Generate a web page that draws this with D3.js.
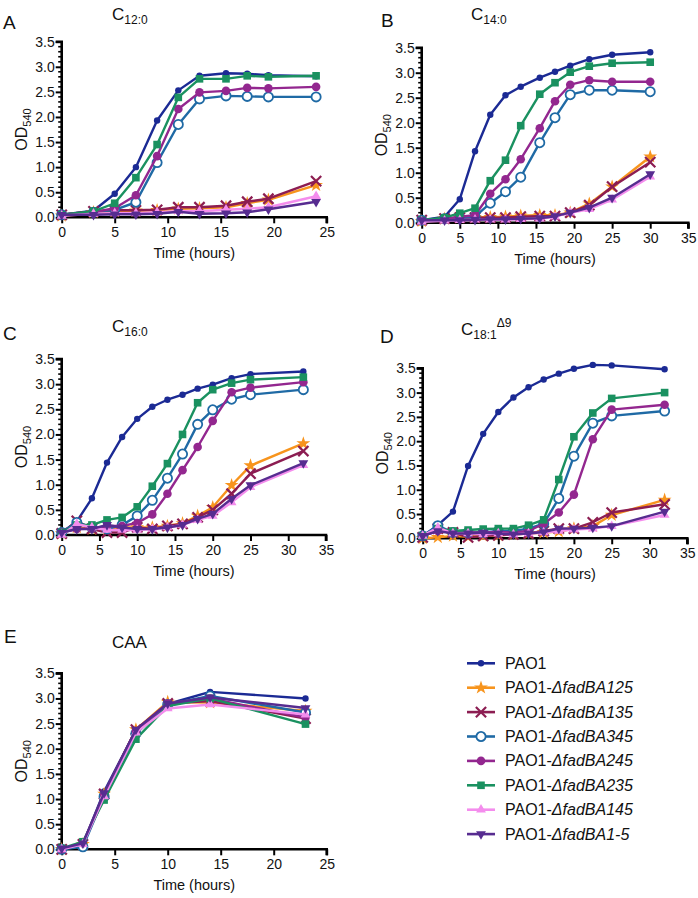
<!DOCTYPE html>
<html><head><meta charset="utf-8">
<script src="https://cdn.jsdelivr.net/npm/d3@7"></script>
<style>
body{margin:0;background:#fff}
svg{display:block;font-family:"Liberation Sans",Arial,Helvetica,sans-serif}
</style>
</head><body>
<svg id="chart" width="698" height="898"></svg>
<script>
// ---------- DATA ----------
const strainBase = ["PAO1","PAO1-","PAO1-","PAO1-","PAO1-","PAO1-","PAO1-","PAO1-"];
const strainItalic = ["","ΔfadBA125","ΔfadBA135","ΔfadBA345","ΔfadBA245","ΔfadBA235","ΔfadBA145","ΔfadBA1-5"];
const strainColors = ["#1b2a94","#f7941d","#8c1d52","#1f6aa5","#93278f","#1a9160","#f48ded","#572c90"];
const strainMarkers = ["dot","star","times","ring","circle","square","triUp","triDown"];

const yTickValues = [0,0.5,1.0,1.5,2.0,2.5,3.0,3.5];
const xTicks25 = [0,5,10,15,20,25];
const xTicks35 = [0,5,10,15,20,25,30,35];

// Panel A: C12:0  (order: PAO1,125,135,345,245,235,145,1-5)
const timesC12 = [0,3,5,7,9,11,13,15.5,17.5,19.5,24];
const odC12 = [
  [0.05,0.13,0.47,1.00,1.93,2.53,2.82,2.87,2.86,2.83,2.81],
  [0.03,0.10,0.12,0.13,0.14,0.17,0.18,0.20,0.28,0.35,0.64],
  [0.05,0.12,0.14,0.14,0.15,0.20,0.20,0.23,0.31,0.37,0.72],
  [0.05,0.10,0.15,0.30,1.09,1.85,2.36,2.42,2.41,2.40,2.40],
  [0.05,0.10,0.18,0.44,1.22,2.16,2.49,2.52,2.58,2.57,2.60],
  [0.05,0.12,0.28,0.79,1.45,2.39,2.76,2.76,2.82,2.80,2.82],
  [0.03,0.07,0.08,0.08,0.10,0.12,0.12,0.15,0.17,0.20,0.42],
  [0.05,0.05,0.06,0.06,0.07,0.11,0.07,0.08,0.10,0.16,0.31]
];

// Panel B: C14:0
const timesC14 = [0,3,5,7,9,11,13,15.5,17.5,19.5,22,25,30];
const odC14 = [
  [0.05,0.12,0.47,1.43,2.16,2.55,2.72,2.90,3.02,3.14,3.27,3.36,3.41],
  [0.03,0.08,0.10,0.11,0.11,0.12,0.14,0.15,0.15,0.20,0.38,0.72,1.32],
  [0.05,0.08,0.10,0.10,0.10,0.10,0.12,0.13,0.13,0.20,0.35,0.72,1.21],
  [0.05,0.08,0.10,0.12,0.39,0.62,0.91,1.60,2.10,2.56,2.65,2.65,2.62],
  [0.05,0.08,0.12,0.15,0.58,0.87,1.27,1.89,2.43,2.76,2.85,2.82,2.82],
  [0.05,0.10,0.19,0.29,0.84,1.25,1.94,2.57,2.80,3.01,3.13,3.19,3.21],
  [0.02,0.04,0.05,0.06,0.06,0.06,0.07,0.08,0.12,0.20,0.27,0.46,0.92],
  [0.05,0.05,0.05,0.06,0.07,0.07,0.08,0.09,0.13,0.20,0.30,0.50,0.97]
];

// Panel C: C16:0
const timesC16 = [0,2,4,6,8,10,12,14,16,18,20,22.5,25,32];
const odC16 = [
  [0.05,0.27,0.73,1.44,1.95,2.31,2.55,2.69,2.79,2.91,2.99,3.12,3.20,3.25],
  [0.03,0.15,0.12,0.10,0.15,0.15,0.15,0.18,0.23,0.38,0.55,0.99,1.38,1.82],
  [0.03,0.28,0.12,0.05,0.05,0.15,0.12,0.18,0.22,0.35,0.50,0.82,1.22,1.67],
  [0.05,0.25,0.15,0.12,0.20,0.38,0.69,1.13,1.61,2.20,2.49,2.70,2.79,2.89],
  [0.05,0.12,0.13,0.18,0.18,0.24,0.41,0.82,1.29,1.75,2.27,2.84,2.93,3.04],
  [0.05,0.20,0.20,0.30,0.35,0.56,0.97,1.42,2.00,2.63,2.89,3.02,3.09,3.14],
  [0.00,0.22,0.15,0.10,0.10,0.10,0.12,0.15,0.20,0.30,0.38,0.65,0.95,1.39],
  [0.05,0.12,0.12,0.20,0.15,0.12,0.12,0.15,0.20,0.32,0.42,0.72,0.99,1.43]
];

// Panel D: C18:1 delta9
const timesC18 = [0,2,4,6,8,10,12,14,16,18,20,22.5,25,32];
const odC18 = [
  [0.05,0.27,0.55,1.49,2.15,2.60,2.90,3.11,3.27,3.39,3.49,3.57,3.56,3.48],
  [0.00,0.02,0.05,0.03,0.05,0.06,0.08,0.10,0.12,0.14,0.20,0.25,0.48,0.79],
  [0.02,0.20,0.12,0.02,0.05,0.06,0.08,0.10,0.15,0.20,0.20,0.33,0.53,0.70],
  [0.05,0.26,0.12,0.12,0.12,0.15,0.15,0.20,0.30,0.82,1.69,2.37,2.52,2.62],
  [0.05,0.15,0.12,0.12,0.12,0.13,0.12,0.15,0.30,0.53,0.90,2.04,2.65,2.75],
  [0.05,0.20,0.15,0.17,0.19,0.20,0.20,0.27,0.38,1.21,2.09,2.58,2.88,3.00],
  [0.05,0.22,0.10,0.10,0.08,0.10,0.08,0.10,0.12,0.15,0.18,0.20,0.25,0.48],
  [0.05,0.15,0.10,0.10,0.12,0.10,0.08,0.10,0.13,0.20,0.20,0.22,0.25,0.55]
];

// Panel E: CAA
const timesCAA = [0,2,4,7,10,14,23];
const odCAA = [
  [0.02,0.10,1.15,2.37,2.89,3.13,3.00],
  [0.00,0.10,1.10,2.38,2.93,2.92,2.75],
  [0.00,0.10,1.10,2.38,2.90,2.95,2.60],
  [0.00,0.05,1.05,2.30,2.88,3.05,2.72],
  [0.00,0.12,1.08,2.35,2.90,3.00,2.62],
  [0.02,0.15,0.98,2.19,2.85,3.00,2.49],
  [0.00,0.10,1.05,2.32,2.80,2.88,2.68],
  [0.02,0.12,1.12,2.38,2.90,3.02,2.81]
];

// ---------- LAYOUT ----------
const panels = [
  {letter:"A", main:"C", sub:"12:0", sup:"", times:timesC12, od:odC12, xmax:25, xticks:xTicks25,
   left:61.7, right:326.7, top:41.7, bottom:217.3, letterX:3, letterY:29, titleX:112, titleY:20},
  {letter:"B", main:"C", sub:"14:0", sup:"", times:timesC14, od:odC14, xmax:35, xticks:xTicks35,
   left:421.7, right:688.3, top:47.7, bottom:222.7, letterX:381, letterY:27, titleX:471, titleY:20},
  {letter:"C", main:"C", sub:"16:0", sup:"", times:timesC16, od:odC16, xmax:35, xticks:xTicks35,
   left:61.7, right:326, top:359, bottom:535, letterX:3, letterY:340, titleX:112, titleY:332},
  {letter:"D", main:"C", sub:"18:1", sup:"Δ9", times:timesC18, od:odC18, xmax:35, xticks:xTicks35,
   left:422.7, right:687.3, top:368.3, bottom:538.3, letterX:380, letterY:343, titleX:461, titleY:335},
  {letter:"E", main:"CAA", sub:"", sup:"", times:timesCAA, od:odCAA, xmax:25, xticks:xTicks25,
   left:61.7, right:326.7, top:673.3, bottom:849.3, letterX:4, letterY:643, titleX:112, titleY:648}
];

const svg = d3.select("#chart");

function drawMarker(g, type, color) {
  const sym = (t, s) => d3.symbol().type(t).size(s)();
  switch (type) {
    case "dot":
      g.append("circle").attr("r",3.2).attr("fill",color); break;
    case "circle":
      g.append("circle").attr("r",4.3).attr("fill",color); break;
    case "ring":
      g.append("circle").attr("r",4.6).attr("fill","#fff").attr("stroke",color).attr("stroke-width",1.8); break;
    case "square":
      g.append("rect").attr("x",-3.8).attr("y",-3.8).attr("width",7.6).attr("height",7.6).attr("fill",color); break;
    case "star":
      g.append("path").attr("d",sym(d3.symbolStar,60)).attr("fill",color); break;
    case "times":
      g.append("path").attr("d",sym(d3.symbolTimes,70)).attr("fill","none").attr("stroke",color).attr("stroke-width",2.2); break;
    case "triUp":
      g.append("path").attr("d",sym(d3.symbolTriangle,42)).attr("fill",color); break;
    case "triDown":
      g.append("path").attr("d",sym(d3.symbolTriangle,42)).attr("fill",color).attr("transform","rotate(180)"); break;
  }
}

panels.forEach(p => {
  const x = d3.scaleLinear().domain([0,p.xmax]).range([p.left,p.right]);
  const y = d3.scaleLinear().domain([0,3.5]).range([p.bottom,p.top]);
  const g = svg.append("g");

  // panel letter
  g.append("text").attr("x",p.letterX).attr("y",p.letterY).attr("font-size",19).attr("fill","#111").text(p.letter);
  // title
  const t = g.append("text").attr("x",p.titleX).attr("y",p.titleY).attr("font-size",17).attr("fill","#111");
  t.append("tspan").text(p.main);
  if (p.sub) t.append("tspan").attr("font-size",12).attr("dy",4).text(p.sub);
  if (p.sup) t.append("tspan").attr("font-size",12).attr("dy",-12).text(p.sup);

  // y axis
  const yAxis = d3.axisLeft(y).tickValues(yTickValues).tickFormat(d3.format(".1f")).tickSize(6).tickPadding(1);
  const ya = g.append("g").attr("transform",`translate(${p.left},0)`).call(yAxis);
  // minor y ticks
  const minors = d3.range(0,35).map(i => i/10).filter(v => Math.abs(v*2 - Math.round(v*2))>1e-6);
  g.append("g").selectAll("line").data(minors).join("line")
    .attr("x1",p.left-3.5).attr("x2",p.left).attr("y1",d=>y(d)).attr("y2",d=>y(d))
    .attr("stroke","#000").attr("stroke-width",1.6);

  // x axis
  const xAxis = d3.axisBottom(x).tickValues(p.xticks).tickFormat(d3.format("d")).tickSize(6).tickPadding(4);
  const xa = g.append("g").attr("transform",`translate(0,${p.bottom})`).call(xAxis);

  [ya,xa].forEach(a => {
    a.select(".domain").attr("stroke","#000").attr("stroke-width",2.6);
    a.selectAll(".tick line").attr("stroke","#000").attr("stroke-width",2);
    a.selectAll(".tick text").attr("font-size",14).attr("fill","#111").attr("font-family","Liberation Sans, Arial, sans-serif");
  });
  ya.select(".domain").attr("d",`M-6,${y(3.5)}H0V${y(0)}`);
  xa.select(".domain").attr("d",`M${x(0)},0H${x(p.xmax)}V6`);

  // axis titles
  g.append("text").attr("x",(p.left+p.right)/2).attr("y",p.bottom+41).attr("text-anchor","middle")
    .attr("font-size",14.5).attr("fill","#111").text("Time (hours)");
  const od = g.append("text").attr("transform",`translate(${p.left-35},${(p.top+p.bottom)/2}) rotate(-90)`)
    .attr("text-anchor","middle").attr("font-size",16).attr("fill","#111");
  od.append("tspan").text("OD");
  od.append("tspan").attr("font-size",11).attr("dy",4).text("540");

  // series
  const line = d3.line().x(d=>x(d[0])).y(d=>y(d[1]));
  p.od.forEach((vals,i) => {
    const pts = p.times.map((tt,j)=>[tt,vals[j]]);
    const sg = g.append("g");
    sg.append("path").attr("d",line(pts)).attr("fill","none").attr("stroke",strainColors[i]).attr("stroke-width",2.4)
      .attr("stroke-linejoin","round");
    pts.forEach(pt => {
      const mg = sg.append("g").attr("transform",`translate(${x(pt[0])},${y(pt[1])})`);
      drawMarker(mg, strainMarkers[i], strainColors[i]);
    });
  });
});

// legend
const lg = svg.append("g");
strainBase.forEach((b,i) => {
  const yy = 663.3 + i*24.4;
  lg.append("line").attr("x1",467).attr("x2",495).attr("y1",yy).attr("y2",yy)
    .attr("stroke",strainColors[i]).attr("stroke-width",2.6);
  const mg = lg.append("g").attr("transform",`translate(481,${yy})`);
  drawMarker(mg, strainMarkers[i], strainColors[i]);
  const tx = lg.append("text").attr("x",505).attr("y",yy+5.5).attr("font-size",16).attr("fill","#111");
  tx.append("tspan").text(b);
  if (strainItalic[i]) tx.append("tspan").attr("font-style","italic").text(strainItalic[i]);
});
</script>
</body></html>
